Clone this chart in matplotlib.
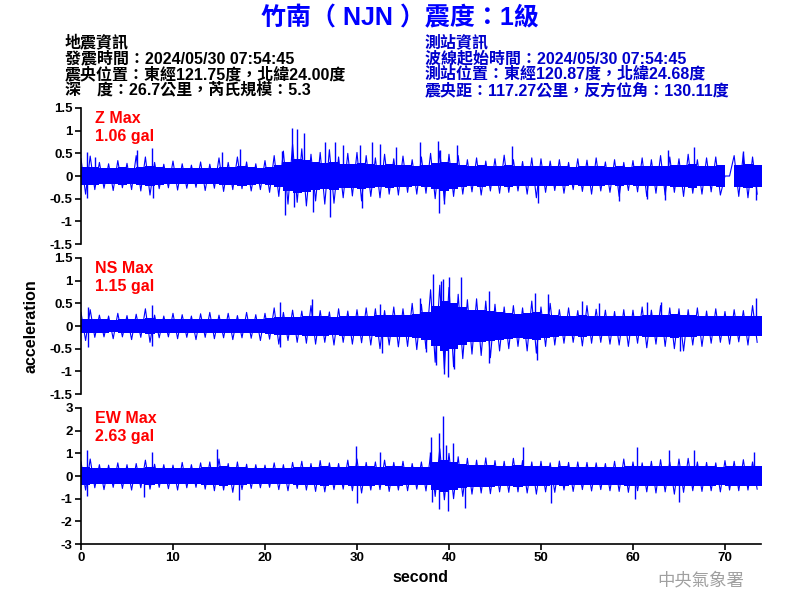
import numpy as np
import matplotlib
matplotlib.use("Agg")
import matplotlib.pyplot as plt
from matplotlib.ticker import FormatStrFormatter

plt.rcParams["font.family"] = ["Liberation Sans", "Noto Sans CJK TC", "DejaVu Sans"]
plt.rcParams["axes.unicode_minus"] = False

# ---- data --------------------------------------------------------------
seconds = np.arange(74)  # one value per second of record

# Z component: solid core half-width, outer excursion per second, big spikes
z_core = [0.20, 0.19, 0.18, 0.18, 0.19, 0.18, 0.19, 0.22, 0.19, 0.18,
          0.18, 0.17, 0.17, 0.18, 0.17, 0.20, 0.19, 0.21, 0.19, 0.18,
          0.19, 0.24, 0.32, 0.38, 0.35, 0.30, 0.28, 0.30, 0.26, 0.27,
          0.28, 0.26, 0.25, 0.26, 0.25, 0.24, 0.23, 0.24, 0.28, 0.32,
          0.28, 0.25, 0.23, 0.24, 0.22, 0.23, 0.25, 0.23, 0.22, 0.23,
          0.23, 0.22, 0.21, 0.20, 0.22, 0.22, 0.21, 0.20, 0.22, 0.20,
          0.21, 0.22, 0.23, 0.22, 0.25, 0.24, 0.26, 0.23, 0.23, 0.24,
          0.00, 0.25, 0.26, 0.24]
z_upper = [0.38, 0.44, 0.30, 0.27, 0.34, 0.28, 0.45, 0.42, 0.30, 0.26,
           0.33, 0.27, 0.24, 0.31, 0.26, 0.40, 0.30, 0.42, 0.31, 0.27,
           0.34, 0.45, 0.55, 0.70, 0.60, 0.48, 0.52, 0.58, 0.42, 0.50,
           0.52, 0.45, 0.40, 0.48, 0.38, 0.44, 0.36, 0.42, 0.50, 0.55,
           0.48, 0.45, 0.36, 0.40, 0.33, 0.38, 0.46, 0.36, 0.32, 0.40,
           0.38, 0.33, 0.36, 0.30, 0.38, 0.35, 0.40, 0.31, 0.36, 0.30,
           0.34, 0.40, 0.36, 0.45, 0.42, 0.38, 0.48, 0.36, 0.40, 0.42,
           0.00, 0.45, 0.50, 0.42]
z_lower = [-0.40, -0.30, -0.27, -0.32, -0.26, -0.30, -0.33, -0.42, -0.28, -0.26,
           -0.31, -0.27, -0.25, -0.32, -0.27, -0.34, -0.30, -0.28, -0.33, -0.30,
           -0.36, -0.45, -0.62, -0.58, -0.66, -0.55, -0.62, -0.60, -0.48, -0.44,
           -0.55, -0.45, -0.48, -0.40, -0.42, -0.36, -0.40, -0.38, -0.50, -0.55,
           -0.45, -0.40, -0.35, -0.42, -0.33, -0.38, -0.36, -0.33, -0.40, -0.48,
           -0.36, -0.32, -0.38, -0.30, -0.34, -0.40, -0.33, -0.36, -0.45, -0.32,
           -0.35, -0.45, -0.38, -0.42, -0.36, -0.45, -0.38, -0.40, -0.35, -0.42,
           0.00, -0.45, -0.48, -0.40]
z_peak_t = [0.7, 0.7, 1.5, 6.1, 7.7, 7.8, 15.3, 17.3, 21.8, 22.2, 22.9, 23.2,
            23.5, 24.2, 25.2, 26.5, 27.1, 27.6, 28.5, 30.3, 30.5, 31.6, 32.5,
            34.2, 36.8, 38.8, 38.9, 39.0, 39.5, 40.9, 46.8, 49.7, 58.5, 61.5,
            63.5, 63.8, 66.6, 72.0, 73.4]
z_peak_v = [0.52, -0.49, 0.43, 0.57, 0.61, -0.48, 0.54, 0.59, 0.55, -0.86, 1.06, -0.68,
            1.03, 0.94, -0.79, 0.75, -0.90, 0.74, 0.68, 0.68, -0.71, 0.76, 0.70,
            0.65, 0.76, 0.77, -0.81, 0.57, -0.62, 0.68, 0.66, -0.59, -0.55, -0.51,
            -0.53, 0.57, 0.65, 0.55, -0.53]

# NS component
ns_core = [0.16, 0.15, 0.15, 0.14, 0.15, 0.15, 0.15, 0.18, 0.16, 0.15,
           0.15, 0.16, 0.15, 0.15, 0.16, 0.15, 0.16, 0.15, 0.16, 0.16,
           0.17, 0.20, 0.19, 0.20, 0.21, 0.22, 0.21, 0.20, 0.21, 0.21,
           0.22, 0.23, 0.25, 0.24, 0.24, 0.25, 0.27, 0.30, 0.45, 0.55,
           0.50, 0.42, 0.36, 0.36, 0.33, 0.30, 0.28, 0.27, 0.28, 0.30,
           0.27, 0.24, 0.23, 0.23, 0.24, 0.23, 0.22, 0.23, 0.22, 0.23,
           0.22, 0.25, 0.24, 0.25, 0.26, 0.25, 0.24, 0.23, 0.22, 0.22,
           0.21, 0.21, 0.22, 0.22]
ns_upper = [0.30, 0.36, 0.24, 0.22, 0.28, 0.23, 0.26, 0.38, 0.24, 0.22,
            0.28, 0.25, 0.22, 0.27, 0.30, 0.24, 0.28, 0.23, 0.30, 0.25,
            0.28, 0.40, 0.30, 0.35, 0.33, 0.45, 0.34, 0.31, 0.38, 0.33,
            0.36, 0.40, 0.38, 0.34, 0.42, 0.38, 0.50, 0.48, 0.80, 0.90,
            0.85, 0.70, 0.58, 0.60, 0.55, 0.48, 0.42, 0.45, 0.40, 0.55,
            0.42, 0.50, 0.36, 0.40, 0.34, 0.45, 0.37, 0.35, 0.32, 0.36,
            0.35, 0.42, 0.35, 0.45, 0.40, 0.38, 0.36, 0.40, 0.33, 0.38,
            0.32, 0.36, 0.34, 0.45]
ns_lower = [-0.32, -0.25, -0.24, -0.28, -0.24, -0.30, -0.25, -0.36, -0.26, -0.24,
            -0.28, -0.25, -0.30, -0.25, -0.28, -0.26, -0.30, -0.26, -0.27, -0.32,
            -0.29, -0.40, -0.32, -0.36, -0.38, -0.40, -0.36, -0.42, -0.36, -0.40,
            -0.37, -0.42, -0.50, -0.42, -0.46, -0.45, -0.52, -0.50, -0.80, -0.95,
            -0.90, -0.72, -0.62, -0.65, -0.70, -0.55, -0.50, -0.45, -0.55, -0.60,
            -0.45, -0.42, -0.38, -0.36, -0.44, -0.38, -0.36, -0.40, -0.42, -0.45,
            -0.38, -0.48, -0.40, -0.45, -0.50, -0.55, -0.42, -0.45, -0.38, -0.36,
            -0.40, -0.35, -0.42, -0.36]
ns_peak_t = [0.8, 0.8, 7.7, 7.7, 21.6, 21.6, 25.1, 32.5, 32.7, 36.8, 37.5, 38.3,
             38.6, 39.1, 39.4, 39.5, 40.0, 39.9, 40.6, 41.3, 44.3, 44.4, 49.3,
             49.6, 50.8, 54.5, 56.3, 61.5, 63.1, 65.1, 73.4]
ns_peak_v = [0.43, -0.46, 0.46, -0.44, 0.54, -0.47, 0.59, 0.49, -0.59, 0.61, -0.57, 1.15,
             -0.87, 0.99, 1.04, -1.05, 1.09, -1.12, -0.95, 1.09, 0.77, -0.81, 0.72,
             -0.75, 0.71, 0.56, 0.51, 0.54, 0.54, -0.55, 0.61]

# EW component
ew_core = [0.38, 0.36, 0.35, 0.34, 0.36, 0.35, 0.35, 0.38, 0.36, 0.35,
           0.35, 0.36, 0.35, 0.38, 0.40, 0.42, 0.40, 0.40, 0.37, 0.35,
           0.34, 0.37, 0.36, 0.38, 0.40, 0.40, 0.42, 0.40, 0.38, 0.42,
           0.45, 0.42, 0.40, 0.42, 0.42, 0.40, 0.38, 0.40, 0.60, 0.70,
           0.62, 0.55, 0.50, 0.48, 0.48, 0.46, 0.45, 0.48, 0.46, 0.44,
           0.42, 0.40, 0.42, 0.40, 0.40, 0.41, 0.40, 0.38, 0.41, 0.44,
           0.42, 0.43, 0.45, 0.44, 0.46, 0.45, 0.46, 0.43, 0.42, 0.41,
           0.42, 0.44, 0.45, 0.42]
ew_upper = [0.62, 0.75, 0.50, 0.48, 0.58, 0.50, 0.55, 0.70, 0.52, 0.50,
            0.48, 0.60, 0.50, 0.58, 0.62, 0.75, 0.55, 0.62, 0.52, 0.50,
            0.48, 0.58, 0.50, 0.60, 0.65, 0.55, 0.68, 0.58, 0.55, 0.70,
            0.75, 0.60, 0.62, 0.70, 0.60, 0.65, 0.55, 0.62, 0.95, 1.20,
            1.00, 0.85, 0.78, 0.70, 0.80, 0.68, 0.65, 0.78, 0.68, 0.62,
            0.65, 0.58, 0.66, 0.60, 0.62, 0.60, 0.58, 0.55, 0.65, 0.75,
            0.62, 0.58, 0.65, 0.72, 0.62, 0.75, 0.78, 0.62, 0.60, 0.58,
            0.68, 0.65, 0.72, 0.62]
ew_lower = [-0.62, -0.52, -0.60, -0.50, -0.55, -0.62, -0.52, -0.58, -0.50, -0.56,
            -0.62, -0.52, -0.50, -0.58, -0.65, -0.62, -0.72, -0.60, -0.55, -0.52,
            -0.50, -0.60, -0.65, -0.55, -0.62, -0.68, -0.70, -0.60, -0.58, -0.65,
            -0.75, -0.62, -0.60, -0.68, -0.62, -0.65, -0.58, -0.66, -0.90, -1.05,
            -1.00, -0.90, -0.80, -0.75, -0.78, -0.70, -0.72, -0.70, -0.75, -0.80,
            -0.70, -0.72, -0.62, -0.68, -0.60, -0.66, -0.60, -0.65, -0.68, -0.72,
            -0.65, -0.70, -0.75, -0.70, -0.80, -0.72, -0.65, -0.68, -0.65, -0.70,
            -0.62, -0.65, -0.62, -0.58]
ew_peak_t = [0.6, 0.7, 6.8, 7.7, 14.8, 17.2, 29.9, 30.0, 32.5, 37.9, 38.1, 38.2,
             38.9, 38.9, 39.4, 39.7, 39.9, 40.4, 41.7, 48.0, 51.1, 60.2, 60.4,
             63.9, 65.0, 66.6, 73.2]
ew_peak_v = [-0.88, 1.15, -0.91, 1.07, 1.20, -1.06, 1.32, -1.20, 1.07, 1.07, 1.74, -1.13,
             1.88, -1.47, 2.63, 1.37, -1.53, 1.47, -1.41, 1.29, -1.21, -1.00, 1.26,
             1.15, -1.13, 1.15, 1.07]

channels = ["Z", "NS", "EW"]
max_gal = ["1.06", "1.15", "2.63"]
y_limits = [1.5, 1.5, 3]
y_ticks = [[-1.5, -1, -0.5, 0, 0.5, 1, 1.5],
           [-1.5, -1, -0.5, 0, 0.5, 1, 1.5],
           [-3, -2, -1, 0, 1, 2, 3]]
x_ticks = [0, 10, 20, 30, 40, 50, 60, 70]

title = "竹南（ NJN ）震度：1級"
quake_info = ["地震資訊",
              "發震時間：2024/05/30 07:54:45",
              "震央位置：東經121.75度，北緯24.00度",
              "深\u3000度：26.7公里，芮氏規模：5.3"]
station_info = ["測站資訊",
                "波線起始時間：2024/05/30 07:54:45",
                "測站位置：東經120.87度，北緯24.68度",
                "震央距：117.27公里，反方位角：130.11度"]

# ---- figure -------------------------------------------------------------
fig = plt.figure(figsize=(8, 6), dpi=100)
trace_color = "#0000ff"

traces = [(z_core, z_upper, z_lower, z_peak_t, z_peak_v),
          (ns_core, ns_upper, ns_lower, ns_peak_t, ns_peak_v),
          (ew_core, ew_upper, ew_lower, ew_peak_t, ew_peak_v)]
panel_boxes = [[0.10125, 0.5933, 0.8498, 0.2267],
               [0.10125, 0.3433, 0.8498, 0.2267],
               [0.10125, 0.0933, 0.8498, 0.2267]]

axes = []
for i, (core, upper, lower, pk_t, pk_v) in enumerate(traces):
    ax = fig.add_axes(panel_boxes[i])
    # solid core: each value covers its own second
    edges = np.append(seconds, seconds[-1] + 1)
    core_ext = np.append(core, core[-1])
    ax.fill_between(edges, -core_ext, core_ext, step="post",
                    color=trace_color, lw=0)
    # outer excursions: max at the start of each second, min half a second later
    zz_x = np.column_stack([seconds, seconds + 0.5]).ravel()
    zz_y = np.column_stack([upper, lower]).ravel()
    ax.plot(zz_x, zz_y, color=trace_color, lw=0.8)
    ax.vlines(pk_t, 0, pk_v, color=trace_color, lw=1.0)
    lim = y_limits[i]
    ax.set_xlim(0, 73.9)
    ax.set_ylim(-lim, lim)
    ax.set_yticks(y_ticks[i])
    ax.yaxis.set_major_formatter(FormatStrFormatter("%g"))
    for side in ("top", "right"):
        ax.spines[side].set_visible(False)
    ax.spines["left"].set_linewidth(1.2)
    ax.tick_params(axis="y", direction="out", length=4, width=1.2,
                   labelsize=9.5, pad=2)
    for lbl in ax.get_yticklabels():
        lbl.set_fontweight("bold")
    ax.text(0.0206, 0.926, f"{channels[i]} Max", transform=ax.transAxes,
            color="#ff0000", fontsize=11.5, fontweight="bold", va="center")
    ax.text(0.0206, 0.787, f"{max_gal[i]} gal", transform=ax.transAxes,
            color="#ff0000", fontsize=11.5, fontweight="bold", va="center")
    if i < 2:
        ax.spines["bottom"].set_visible(False)
        ax.set_xticks([])
    else:
        ax.spines["bottom"].set_linewidth(1.2)
        ax.set_xticks(x_ticks)
        ax.tick_params(axis="x", direction="out", length=4, width=1.2,
                       labelsize=9.5, pad=2)
        for lbl in ax.get_xticklabels():
            lbl.set_fontweight("bold")
        ax.set_xlabel("second", fontsize=11.5, fontweight="bold", labelpad=4)
    axes.append(ax)

axes[1].set_ylabel("acceleration", fontsize=11.5, fontweight="bold", labelpad=8)

fig.text(0.5, 0.97, title, ha="center", va="center", color="#0000ff",
         fontsize=18, fontweight="bold")
for k, line in enumerate(quake_info):
    fig.text(0.081, 0.93 - k * 0.0267, line, ha="left", va="center",
             color="black", fontsize=11.5, fontweight="bold")
for k, line in enumerate(station_info):
    fig.text(0.531, 0.93 - k * 0.0267, line, ha="left", va="center",
             color="#0000cc", fontsize=11.5, fontweight="bold")
fig.text(0.876, 0.032, "中央氣象署", ha="center", va="center",
         color="#a0a0a0", fontsize=12.5, family="Noto Sans CJK TC")

fig.savefig("out.png", dpi=100)
